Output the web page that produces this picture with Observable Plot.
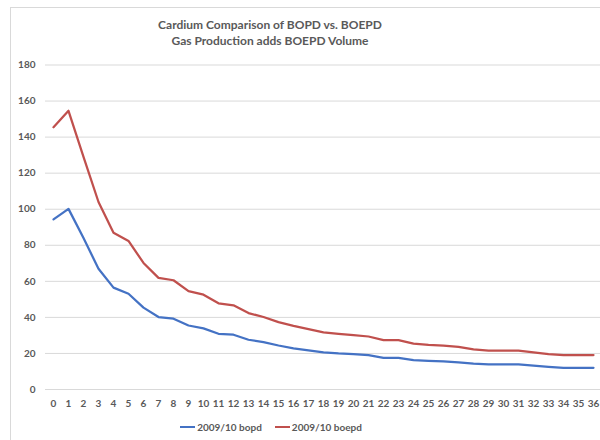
<!DOCTYPE html>
<html>
<head>
<meta charset="utf-8">
<script src="https://cdn.jsdelivr.net/npm/d3@7"></script>
<script src="https://cdn.jsdelivr.net/npm/@observablehq/plot@0.6"></script>
<style>
  html, body { margin: 0; padding: 0; background: #fff; }
  #wrap { position: relative; width: 600px; height: 440px; overflow: hidden; font-family: Lato, "Open Sans", sans-serif; }
  #frame { position: absolute; left: 10px; top: 7px; width: 620px; height: 460px; border: 1px solid #d9d9d9; box-sizing: border-box; }
  #title { position: absolute; left: 0; top: 17px; width: 540px; text-align: center; color: #595959; font-weight: bold; font-size: 12px; line-height: 16px; }
  #chart { position: absolute; left: 0; top: 50px; }
  #chart svg text { font-weight: 700; }
  #legend { position: absolute; top: 421px; left: 0; width: 542px; display: flex; justify-content: center; gap: 13px; color: #595959; font-size: 10px; font-weight: bold; }
  .item { display: flex; align-items: center; gap: 2px; }
  .sw { display: inline-block; width: 15px; height: 2.5px; }
</style>
</head>
<body>
<div id="wrap">
  <div id="frame"></div>
  <div id="title">Cardium Comparison of BOPD vs. BOEPD<br>Gas Production adds BOEPD Volume</div>
  <div id="chart"></div>
  <div id="legend"></div>
</div>
<script>
const months = d3.range(0, 37);
const bopd = [94.4, 100.2, 84, 67, 56.5, 53.1, 45.4, 40.2, 39.3, 35.5, 33.9, 30.9, 30.4, 27.6, 26.3, 24.4, 22.8, 21.7, 20.6, 20, 19.6, 19.1, 17.6, 17.6, 16.3, 15.9, 15.6, 15, 14.3, 13.9, 13.9, 13.9, 13.3, 12.6, 12, 12, 12];
const boepd = [145.5, 154.6, 129, 104, 87, 82.4, 70.2, 61.9, 60.6, 54.6, 52.6, 47.8, 46.7, 42.4, 40.2, 37.4, 35.3, 33.5, 31.7, 30.9, 30.2, 29.4, 27.4, 27.4, 25.4, 24.8, 24.4, 23.7, 22.2, 21.5, 21.5, 21.5, 20.6, 19.6, 19.1, 19.1, 19.1];
const seriesNames = ["2009/10 bopd", "2009/10 boepd"];
const seriesColors = ["#4472C4", "#C0504D"];
const yTicks = [0, 20, 40, 60, 80, 100, 120, 140, 160, 180];

const rows = [];
months.forEach((m, i) => {
  rows.push({month: m, value: bopd[i], series: seriesNames[0]});
  rows.push({month: m, value: boepd[i], series: seriesNames[1]});
});

const plot = Plot.plot({
  width: 600,
  height: 370,
  marginLeft: 45,
  marginRight: 0,
  marginTop: 14.5,
  marginBottom: 31,
  style: {fontFamily: "Lato, 'Open Sans', sans-serif", fontSize: "10px", fontWeight: "bold", color: "#595959", background: "transparent"},
  x: {type: "point", domain: months, padding: 0.5, label: null, tickSize: 0, tickPadding: 10},
  y: {domain: [0, 180], ticks: yTicks, label: null, tickSize: 0, tickPadding: 10},
  color: {domain: seriesNames, range: seriesColors},
  marks: [
    Plot.gridY(yTicks, {stroke: "#d9d9d9", strokeOpacity: 1, strokeWidth: 1}),
    Plot.axisY(yTicks, {tickSize: 0, tickPadding: 10, fill: "#595959"}),
    Plot.axisX(months, {tickSize: 0, tickPadding: 10, fill: "#595959"}),
    Plot.line(rows, {x: "month", y: "value", z: "series", stroke: "series", strokeWidth: 2.25})
  ]
});
document.getElementById("chart").appendChild(plot);

const legend = document.getElementById("legend");
seriesNames.forEach((n, i) => {
  const it = document.createElement("div");
  it.className = "item";
  const sw = document.createElement("span");
  sw.className = "sw";
  sw.style.background = seriesColors[i];
  const t = document.createElement("span");
  t.textContent = n;
  it.appendChild(sw); it.appendChild(t);
  legend.appendChild(it);
});
</script>
</body>
</html>
